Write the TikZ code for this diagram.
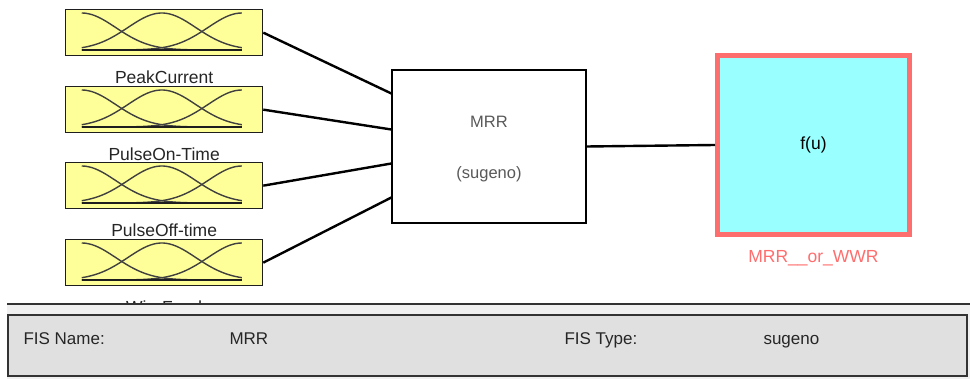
\documentclass[tikz,border=0pt]{standalone}
\usepackage{fontspec}
\setmainfont{Liberation Sans}
\definecolor{mfyellow}{RGB}{255,255,153}
\definecolor{outcyan}{RGB}{153,255,255}
\definecolor{outred}{RGB}{255,110,110}
\definecolor{panelbg}{RGB}{240,240,240}
\definecolor{panelbox}{RGB}{224,224,224}
\definecolor{edge}{RGB}{30,30,30}
\tikzset{
  mfbox/.style={draw=edge, line width=1.3pt, fill=mfyellow, minimum width=197pt,
    minimum height=46pt, inner sep=0pt, anchor=north west},
  mfcurve/.style={draw=edge!85, line width=1.4pt},
  varlabel/.style={font=\fontsize{17.5}{19}\selectfont, text=black!85},
  wire/.style={line width=2.4pt, black},
  fisbox/.style={draw=black, line width=1.3pt, fill=white, minimum width=194pt,
    minimum height=153pt, inner sep=0pt},
  outbox/.style={draw=outred, line width=5pt, fill=outcyan, minimum width=192pt,
    minimum height=179pt, inner sep=0pt},
  paneltext/.style={font=\fontsize{17}{19}\selectfont, anchor=base west, text=black!85}
}
\begin{document}
\begin{tikzpicture}[x=1pt, y=-1pt]
\useasboundingbox (0,0) rectangle (970,379);
\fill[white] (0,0) rectangle (970,379);

% input variables with their three Gaussian membership functions
\foreach \n/\t/\lab in {pc/9/PeakCurrent, pon/86/PulseOn-Time, poff/162/PulseOff-time, wf/239/WireFeed}{
  \node[mfbox] (\n) at (65,\t) {};
  \begin{scope}[shift={(\n.north west)}]
    \foreach \c in {0,0.5,1}{
      \draw[mfcurve] plot[domain=0:1, samples=50, smooth]
        ({(0.085+0.813*\x)*197}, {41-37*exp(-((\x-\c)^2)/(2*0.045))});
    }
    \draw[edge, line width=2pt] ({0.085*197},41) -- ({0.898*197},41);
  \end{scope}
  \node[varlabel] at ([yshift=-21pt]\n.south) {\lab};
}

% the FIS block
\node[fisbox] (mrr) at (489,146.5) {};
\node[font=\fontsize{16.5}{18}\selectfont, text=black!65, anchor=base] at (489,128) {MRR};
\node[font=\fontsize{16.5}{18}\selectfont, text=black!65, anchor=base] at (489,179) {(sugeno)};

% the output variable
\node[outbox] (out) at (813.5,145) {};
\node[font=\fontsize{17.5}{19}\selectfont] at (out) {f(u)};
\node[font=\fontsize{17.5}{19}\selectfont, text=outred] at ([yshift=-21pt]out.south) {MRR\_\_or\_WWR};

% wires
\draw[wire] (pc.east)   -- ([yshift=53pt]mrr.west);
\draw[wire] (pon.east)  -- ([yshift=17pt]mrr.west);
\draw[wire] (poff.east) -- ([yshift=-17pt]mrr.west);
\draw[wire] (wf.east)   -- ([yshift=-51pt]mrr.west);
\draw[wire] (mrr.east) -- (out.west);

% information panel
\fill[panelbg] (7,304) rectangle (970,379);
\draw[black!80, line width=1.6pt] (7,304) -- (970,304);
\draw[black!80, line width=1.3pt, fill=panelbox] (8,315) rectangle (967,376);
\node[paneltext] (fn) at (20,345) {FIS Name:};
\node[paneltext] (fnv) at (226,345) {MRR};
\node[paneltext] (ft) at (561,345) {FIS Type:};
\node[paneltext] (ftv) at (760,345) {sugeno};
\end{tikzpicture}
\end{document}
